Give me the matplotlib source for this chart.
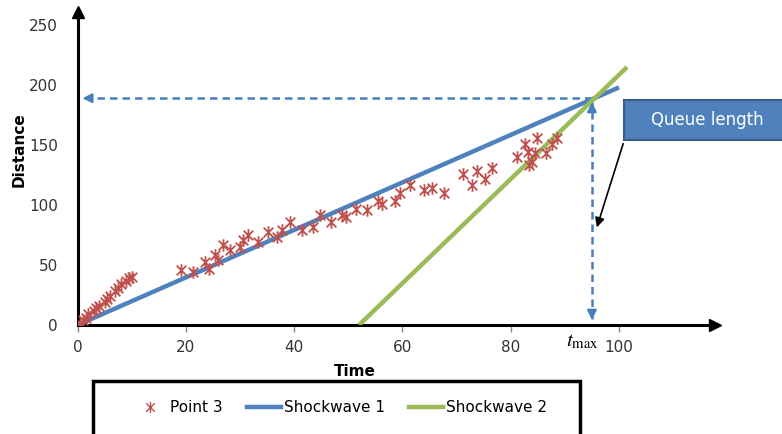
import numpy as np
import matplotlib.pyplot as plt
from matplotlib.path import Path
from matplotlib.patches import Rectangle
from matplotlib.lines import Line2D

plt.rcParams['mathtext.fontset'] = 'stix'

# scattered observations (Point 3)
point_t = [0.5, 1, 1.5, 2, 3, 3.5, 4, 5, 5.5, 6, 7, 7.5, 8, 9, 9.5, 10,
           19.2, 21.4, 23.5, 24.3, 25.4, 26, 26.9, 28.2, 30, 30.6, 31.5, 33.4,
           35.2, 36.8, 37.7, 39.2, 41.4, 43.5, 44.8, 46.9, 48.8, 49.6, 51.5,
           53.4, 55.5, 56.2, 58.6, 59.6, 61.4, 63.9, 65.4, 67.6,
           71.2, 72.8, 73.7, 75.3, 76.5, 81.1, 82.6, 83.2, 83.4, 83.9, 84.5,
           84.8, 86.6, 87.6, 88.5]
point_d = [2, 4, 6, 9, 12, 14, 16, 19, 22, 24, 28, 31, 34, 37, 39, 40,
           45.8, 44.4, 52.8, 47, 58, 54, 66.7, 62.5, 65, 70.8, 75, 69,
           77.8, 73.6, 79, 86, 79, 82, 91.7, 86, 91.7, 90, 97,
           96, 103, 101, 103, 110, 117, 112.5, 114, 110,
           126, 117, 128, 122, 130.6, 140, 151, 144, 133, 136, 143,
           155.6, 143, 151, 155.6]

shock1_t = [0, 100]
shock1_d = [0, 198]
shock2_t = [52, 101.5]
shock2_d = [0, 215]

t_max = 95
q_len = 189

x_ticks = [0, 20, 40, 60, 80, 100]
y_ticks = [0, 50, 100, 150, 200, 250]

red = '#C0504D'
blue = '#4F81BD'
green = '#9BBB59'
dash_blue = '#4A7EBB'

# star marker: x with a vertical bar
star = Path([(-1, -1), (1, 1), (-1, 1), (1, -1), (0, -1.3), (0, 1.3)],
            [Path.MOVETO, Path.LINETO, Path.MOVETO, Path.LINETO, Path.MOVETO, Path.LINETO])

W, H = 782, 434
fig = plt.figure(figsize=(W / 100, H / 100), dpi=100)
x0, x1 = 77.5, 715
y0, y1 = 325, 12
ax = fig.add_axes([x0 / W, 1 - y0 / H, (x1 - x0) / W, (y0 - y1) / H])
ax.set_xlim(0, (x1 - x0) / 5.415)
ax.set_ylim(0, (y0 - y1) / 1.2)

ax.plot(shock1_t, shock1_d, color=blue, lw=3.2, solid_capstyle='butt', zorder=3)
ax.plot(shock2_t, shock2_d, color=green, lw=3.2, solid_capstyle='butt', zorder=3)
ax.plot(point_t, point_d, ls='none', marker=star, ms=9, mfc='none', mec=red, mew=1.3, zorder=4)

# dashed guide lines
ax.plot([t_max, 1.0], [q_len, q_len], ls=(0, (3, 2)), color=dash_blue, lw=1.8, zorder=2)
ax.plot([t_max, t_max], [q_len - 1, 3], ls=(0, (3, 2)), color=dash_blue, lw=1.8, zorder=2)
ax.annotate('', xy=(0.4, q_len), xytext=(3, q_len),
            arrowprops=dict(arrowstyle='-|>', color=dash_blue, lw=1.5, mutation_scale=14))
ax.annotate('', xy=(t_max, q_len - 1), xytext=(t_max, q_len - 10),
            arrowprops=dict(arrowstyle='-|>', color=dash_blue, lw=1.5, mutation_scale=14))
ax.annotate('', xy=(t_max, 2), xytext=(t_max, 12),
            arrowprops=dict(arrowstyle='-|>', color=dash_blue, lw=1.5, mutation_scale=14))

for s in ['top', 'right']:
    ax.spines[s].set_visible(False)
for s in ['left', 'bottom']:
    ax.spines[s].set_linewidth(2.2)
ax.plot(1, 0, '>', color='black', ms=9, transform=ax.transAxes, clip_on=False)
ax.plot(0, 1, '^', color='black', ms=9, transform=ax.transAxes, clip_on=False)

ax.set_xticks(x_ticks)
ax.set_yticks(y_ticks)
ax.tick_params(axis='x', length=5, width=1, color='#888888', pad=6, labelsize=11, labelcolor='#333333')
ax.tick_params(axis='y', length=0, pad=14, labelsize=11, labelcolor='#333333')

ax.text(93.2, -13, r'$t_{\mathrm{max}}$', fontsize=15, ha='center', va='center')
fig.text(355 / W, 1 - 372 / H, 'Time', fontsize=11, fontweight='bold', ha='center', va='center')
fig.text(19 / W, 1 - 150 / H, 'Distance', fontsize=11, fontweight='bold', rotation=90,
         ha='center', va='center')

# Queue length call-out
fig.patches.append(Rectangle((624 / W, 1 - 140 / H), 170 / W, 40 / H, transform=fig.transFigure,
                             facecolor='#4F81BD', edgecolor='#385D8A', lw=1.5))
fig.text(707 / W, 1 - 120 / H, 'Queue length', fontsize=12, color='white', ha='center', va='center')
ax.annotate('', xy=(596 / W, 1 - 230 / H), xytext=(624 / W, 1 - 141 / H),
            xycoords='figure fraction', textcoords='figure fraction',
            arrowprops=dict(arrowstyle='-|>', color='black', lw=1.2, mutation_scale=14))

# legend frame running off the bottom
fig.patches.append(Rectangle((93 / W, -0.05), (580 - 93) / W, 0.05 + 1 - 381 / H,
                             transform=fig.transFigure, facecolor='white', edgecolor='black', lw=2.5))
handles = [Line2D([], [], ls='none', marker=star, ms=8, mfc='none', mec=red, mew=1.0),
           Line2D([], [], color=blue, lw=3.2),
           Line2D([], [], color=green, lw=3.2)]
fig.legend(handles, ['Point 3', 'Shockwave 1', 'Shockwave 2'], ncol=3, frameon=False,
           loc='center', bbox_to_anchor=(340 / W, 1 - 408 / H), fontsize=11,
           handlelength=2.2, handletextpad=0.2, columnspacing=1.6)

fig.savefig('out.png', dpi=100)
